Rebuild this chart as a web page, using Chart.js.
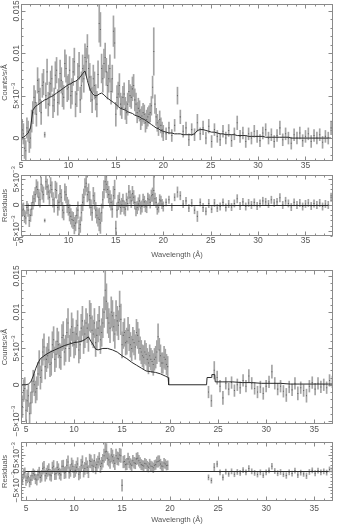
<!DOCTYPE html>
<html><head><meta charset="utf-8">
<script src="https://cdn.jsdelivr.net/npm/chart.js@4.4.1/dist/chart.umd.min.js"></script>
<style>
html,body{margin:0;padding:0;background:#fff;}
#wrap{position:relative;width:337px;height:526px;overflow:hidden;background:#fff;}
#wrap canvas{position:absolute;left:0;}
</style></head><body><div id="wrap">
<canvas id="p1"></canvas><canvas id="r1"></canvas><canvas id="p2"></canvas><canvas id="r2"></canvas>
</div>
<script>
// ---------- DATA (flux, errors, model, residuals in units of 1e-4 counts/s/Å) ----------
const wl1 = [5,5.25,5.5,5.75,6,6.25,6.5,6.75,7,7.25,7.5,7.75,8,8.25,8.5,8.75,9,9.25,9.5,9.75,10,10.25,10.5,10.75,11,11.25,11.5,11.75,12,12.25,12.5,12.75,13,13.25,13.5,13.75,14,14.25,14.5,14.75,15,15.25,15.5,15.75,16,16.25,16.5,16.75,17,17.25,17.5,17.75,18,18.25,18.5,18.75,19,19.25,19.5,19.75,20,
20.3,20.6,20.9,21.2,21.5,21.8,22.1,22.4,22.7,23.0,23.3,23.6,23.9,24.2,24.5,24.8,25.1,25.4,25.7,26.0,26.3,26.6,26.9,27.2,27.5,27.8,28.1,28.4,28.7,29.0,29.3,29.6,29.9,30.2,30.5,30.8,31.1,31.4,31.7,32.0,32.3,32.6,32.9,33.2,33.5,33.8,34.1,34.4,34.7,35.0,35.3,35.6,35.9,36.2,36.5,36.8,37.1,37.4,37.7];
const flux1 = [-8,5,-15,8,0,30,42,68,45,62, 4,78,52,70,45,80,55,68,48,82, 60,50,78,40,72,45,82,95,108,72, 45,62,40,135,82,88,78,70,55,126, 28,52,40,48,35,40,50,58,45,30, 32,26,28,22,28,38,102,25,12,15, 6,
5,12,3,15,50,25,8,12,-2,10, 4,18,5,12,0,14,-4,10,2,-2, 8,0,9,-3,5,18,2,6,-4,5, 0,8,2,-3,6,10,0,4,-4,3, 12,-2,5,0,-6,4,0,6,-3,2, 5,-4,3,0,4,-5,2,0,12];
const err1 = [12,12,12,12,12,13,14,15,14,14, 3,15,14,15,14,15,15,15,14,16, 15,15,16,15,16,15,16,16,14,16, 15,16,15,22,17,17,16,16,15,18, 14,14,13,13,13,13,13,14,13,12, 12,11,11,11,10,11,28,10,9,9, 9,
7,7,7,7,10,8,7,7,7,7, 7,10,7,8,7,8,7,7,7,7, 7,7,7,7,7,8,7,7,7,7, 7,7,7,7,7,7,7,7,7,7, 8,7,7,7,7,7,7,7,7,7, 7,7,7,7,7,7,7,7,8];
const model1 = [0,1,3,6,12,33,37,39,41,43, 45,46,48,49,51,53,55,57,59,61, 63,64,66,67,69,72,76,79,68,58, 53,50,50,52,53,51,48,46,44,42, 40,37,35,34,33,31,30,29,27,26, 25,23,22,20,18,16,14,12,11,9, 8,
7,6,6,5,5,5,4,4,4,4, 5,9,10,10,9,8,7,7,6,5, 5,4,4,4,4,3,3,3,3,2, 2,2,2,2,2,1,1,1,1,1, 1,1,1,1,0,0,0,0,0,0, 0,0,0,0,0,0,0,0,0];
const resid1 = [-15,-8,-25,-10,-20,5,20,30,10,25, -30,35,15,30,0,28,5,15,-15,20, -5,-22,-30,-35,-10,-38,5,35,20,10, -15,8,-20,-28,-15,30,40,20,5,18, -45,5,-5,8,-8,3,15,22,5,-5, 8,-3,6,-4,10,18,28,5,-5,8, -3,
5,10,-4,15,25,18,2,8,-6,4, -10,-22,5,-5,-12,3,-8,4,-6,-3, 5,-5,2,-4,3,12,-2,6,-3,4, 0,5,-2,3,8,6,2,10,4,6, 14,0,8,3,-4,5,0,4,-3,2, 4,-2,3,0,4,-3,2,0,15];
// interleaved bins of the dense 5–20 Å part
const wl1b = [5.125,5.375,5.625,5.875,6.125,6.375,6.625,6.875,7.125,7.375, 7.625,7.875,8.125,8.375,8.625,8.875,9.125,9.375,9.625,9.875, 10.125,10.375,10.625,10.875,11.125,11.375,11.625,11.875,12.125,12.375, 12.625,12.875,13.125,13.375,13.625,13.875,14.125,14.375,14.625,14.875, 15.125,15.375,15.625,15.875,16.125,16.375,16.625,16.875,17.125,17.375, 17.625,17.875,18.125,18.375,18.625,18.875,19.125,19.375,19.625,19.875];
const flux1b = [10,-12,12,-5,20,48,28,55,30,66, 50,40,64,38,74,42,76,52,88,58, 80,55,90,52,85,62,70,90,82,58, 70,48,75,128,70,95,62,82,70,112, 48,62,36,52,30,55,48,62,40,35, 22,30,18,25,30,60,40,18,22,10];
const err1b = [12,12,12,12,13,14,14,15,14,15, 15,14,15,14,16,15,16,15,16,15, 16,15,16,15,16,16,16,16,16,15, 16,15,16,20,16,17,16,16,16,18, 14,14,13,13,13,13,13,13,13,12, 12,11,11,11,11,13,11,10,10,9];
const resid1b = [-10,-22,-5,-30,-8,12,35,15,40,20, 45,25,38,10,30,-5,22,-10,25,0, -15,-28,-40,-20,-45,-15,15,42,25,-5, 18,-10,-25,-35,10,45,30,12,-8,30, -10,10,0,-5,10,25,8,15,-8,2, -6,10,-2,12,5,20,12,-8,10,2];

const wl2 = [4.5,4.75,5,5.25,5.5,5.75,6,6.25,6.5,6.75, 7,7.25,7.5,7.75,8,8.25,8.5,8.75,9,9.25, 9.5,9.75,10,10.25,10.5,10.75,11,11.25,11.5,11.75, 12,12.25,12.5,12.75,13,13.25,13.5,13.75,14,14.25, 14.5,14.75,15,15.25,15.5,15.75,16,16.25,16.5,16.75, 17,17.25,17.5,17.75,18,18.25,18.5,18.75,19,19.25, 19.5,19.75,
24.0,24.3,24.6,24.9,25.2,25.5,25.8,26.1,26.4,26.7, 27.0,27.3,27.6,27.9,28.2,28.5,28.8,29.1,29.4,29.7, 30.0,30.3,30.6,30.9,31.2,31.5,31.8,32.1,32.4,32.7, 33.0,33.3,33.6,33.9,34.2,34.5,34.8,35.1,35.4,35.7, 36.0,36.3,36.6,36.9];
const flux2 = [-20,-8,-35,-15,-25,5,-10,15,10,45, 25,40,28,55,35,60,40,65,45,72, 50,80,55,70,48,78,62,85,65,92, 70,58,78,62,85,130,92,78,95,70, 88,108,55,72,60,65,50,58,72,60, 45,38,42,30,35,28,38,66,40,30, 35,25,
-10,-22,20,10,-2,-18,2,-6,3,-8, 0,-4,6,-2,12,2,-5,-10,-3,-12, -2,4,18,2,-6,-2,-9,-14,-3,-7, 2,-12,-4,-8,-15,-2,3,-6,2,-3, 0,-4,6,4];
const err2 = [15,15,15,15,15,15,15,16,16,18, 17,17,17,18,17,18,17,18,18,19, 18,19,18,19,18,19,19,20,19,20, 19,19,19,19,20,27,21,20,21,20, 20,21,18,19,18,18,17,17,18,17, 16,16,15,15,15,15,15,18,15,14, 14,14,
8,8,12,9,8,9,8,8,8,8, 8,8,8,8,9,8,8,8,8,8, 8,8,9,8,8,8,8,9,8,8, 8,9,8,8,9,8,8,8,8,8, 8,8,8,8];
const resid2 = [-15,-10,-30,-18,-28,-8,-25,-12,-20,8, -15,0,-12,10,-10,12,-8,15,-6,18, -5,22,-3,12,-10,18,0,22,-2,30, 15,10,28,14,32,60,40,28,45,24, 40,50,-45,30,22,28,18,26,38,32, 20,16,22,12,16,10,20,30,22,15, 22,18,
-20,-30,12,22,-4,-20,-2,-9,-1,-10, -3,-6,3,-4,8,-1,-6,-11,-4,-13, -4,2,15,0,-7,-3,-10,-14,-4,-8, 1,-12,-5,-9,-15,-3,2,-7,1,-4, -1,-5,5,3];
const wl2b = [4.625,4.875,5.125,5.375,5.625,5.875,6.125,6.375,6.625,6.875, 7.125,7.375,7.625,7.875,8.125,8.375,8.625,8.875,9.125,9.375, 9.625,9.875,10.125,10.375,10.625,10.875,11.125,11.375,11.625,11.875, 12.125,12.375,12.625,12.875,13.125,13.375,13.625,13.875,14.125,14.375, 14.625,14.875,15.125,15.375,15.625,15.875,16.125,16.375,16.625,16.875, 17.125,17.375,17.625,17.875,18.125,18.375,18.625,18.875,19.125,19.375, 19.625];
const flux2b = [-30,-5,-22,-40,-10,0,-5,30,20,52, 35,48,30,62,42,55,38,68,50,85, 58,72,60,82,55,88,70,78,95,75, 85,68,88,72,100,115,85,100,80,95, 82,90,68,58,75,55,62,52,68,50, 40,45,35,40,32,35,45,48,30,38, 28];
const err2b = [15,15,15,15,15,15,16,17,17,18, 17,18,17,18,18,18,17,19,18,20, 19,19,19,20,19,20,19,20,21,20, 20,19,20,19,21,24,20,21,20,21, 20,21,18,17,18,17,17,17,18,16, 15,16,15,15,15,15,16,16,14,15, 14];
const resid2b = [-28,-5,-22,-35,-15,-12,-28,-5,-15,12, -8,5,-15,15,-8,5,-12,15,-4,28, 2,15,2,22,-4,28,8,12,32,18, 32,20,38,24,48,62,35,50,32,48, 38,48,28,20,38,22,32,24,40,26, 18,24,16,22,14,18,28,32,16,25, 17];
const modelWl2 = [4.5,5,5.25,5.5,5.75,6,6.25,6.5,7,7.5,8,8.5,9,9.5,10,10.5,11,11.5,11.75,12,12.25,12.5,13,13.5,14,14.5,15,15.5,16,16.5,17,17.5,18,18.5,19,19.5,19.8,19.85,23.8,23.85,24.3,24.35,24.65,24.7,25.5,26.5,27.5,28.5,29.5,30.5,31.5,32.5,33.5,34.5,35.5,36.5,37];
const model2 = [0,0,1,4,12,22,30,36,41,45,48,51,54,56,58,59,61,66,60,55,49,48,50,50,48,45,40,36,31,27,23,19,18,17,15,12,10,0,0,10,10,14,14,4,4,4,3,3,2,2,2,1,1,1,1,1,1];

// axis tick labels
const xTickStep = 5;
const yTickVals1 = [0, 0.005, 0.01, 0.015];
const yTickLabels1 = ['0', '5×10^−3', '0.01', '0.015'];
const yTickValsR = [-0.005, 0, 0.005];
const yTickLabelsR = ['−5×10^−3', '0', '5×10^−3'];
const yTickVals2 = [-0.005, 0, 0.005, 0.01, 0.015];
const yTickLabels2 = ['−5×10^−3', '0', '5×10^−3', '0.01', '0.015'];

// ---------- STYLE ----------
const UNIT = 1e-4;
const FONT = "'Liberation Sans','DejaVu Sans',sans-serif";
const TXT = '#555', FRAME = '#8a8a8a', BAR = '#a4a4a4', DOT = '#666', LINE = '#2a2a2a';

function drawRot(ctx, text, bx, cy) {
  const parts = text.split('^');
  ctx.save();
  ctx.translate(bx, cy);
  ctx.rotate(-Math.PI / 2);
  ctx.textBaseline = 'alphabetic'; ctx.textAlign = 'left';
  ctx.font = '8.5px ' + FONT;
  const wb = ctx.measureText(parts[0]).width;
  let ws = 0;
  if (parts[1]) { ctx.font = '6px ' + FONT; ws = ctx.measureText(parts[1]).width; }
  const s = -(wb + ws) / 2;
  ctx.font = '8.5px ' + FONT; ctx.fillText(parts[0], s, 0);
  if (parts[1]) { ctx.font = '6px ' + FONT; ctx.fillText(parts[1], s + wb, -4); }
  ctx.restore();
}

function framePlugin(cfg) {
  return {
    id: 'pgFrame',
    afterDatasetsDraw(chart) {
      const ctx = chart.ctx, a = chart.chartArea, xs = chart.scales.x, ys = chart.scales.y;
      const L = Math.round(a.left) + 0.5, R = Math.round(a.right) - 0.5, T = Math.round(a.top) + 0.5, B = Math.round(a.bottom) - 0.5;
      ctx.save();
      if (cfg.zero) {
        const py = Math.round(ys.getPixelForValue(0)) + 0.5;
        ctx.strokeStyle = LINE; ctx.lineWidth = 1;
        ctx.beginPath(); ctx.moveTo(L, py); ctx.lineTo(R, py); ctx.stroke();
      }
      ctx.strokeStyle = FRAME; ctx.lineWidth = 1;
      ctx.strokeRect(L, T, R - L, B - T);
      ctx.beginPath();
      for (let k = Math.ceil(xs.min); k <= Math.floor(xs.max); k++) {
        const px = Math.round(xs.getPixelForValue(k)) + 0.5;
        const len = k % 5 === 0 ? 4 : 2;
        ctx.moveTo(px, B); ctx.lineTo(px, B - len);
        ctx.moveTo(px, T); ctx.lineTo(px, T + len);
      }
      const st = cfg.minor, per = Math.round(0.005 / st);
      for (let k = Math.ceil(ys.min / st - 1e-9); k <= Math.floor(ys.max / st + 1e-9); k++) {
        const py = Math.round(ys.getPixelForValue(k * st)) + 0.5;
        const len = (k % per === 0) ? 4 : 2;
        ctx.moveTo(L, py); ctx.lineTo(L + len, py);
        ctx.moveTo(R, py); ctx.lineTo(R - len, py);
      }
      ctx.stroke();
      ctx.fillStyle = TXT;
      cfg.yVals.forEach((v, i) => drawRot(ctx, cfg.yLabels[i], 18.5, ys.getPixelForValue(v)));
      ctx.restore();
    }
  };
}

const eb = (wl, v, e) => wl.map((w, i) => ({x: w, y: [(v[i] - e[i]) * UNIT, (v[i] + e[i]) * UNIT]}));
const pt = (wl, v) => wl.map((w, i) => ({x: w, y: v[i] * UNIT}));
function sets(wl, v, e, mwl, m) {
  const s = [
    {type: 'bar', data: eb(wl, v, e), backgroundColor: BAR, borderWidth: 0, barThickness: 1, grouped: false, clip: 0, order: 3},
    {type: 'scatter', data: pt(wl, v), pointStyle: 'rect', pointRadius: 0.75, backgroundColor: DOT, borderWidth: 0, clip: 0, order: 2}
  ];
  if (mwl) s.push({type: 'line', data: pt(mwl, m), borderColor: LINE, borderWidth: 1, pointRadius: 0, tension: 0, fill: false, clip: 0, order: 1});
  return s;
}

function makeChart(id, cfg, datasets) {
  const cv = document.getElementById(id);
  cv.width = 337; cv.height = cfg.h;
  cv.style.top = cfg.top + 'px'; cv.style.width = '337px'; cv.style.height = cfg.h + 'px';
  return new Chart(cv.getContext('2d'), {
    type: 'scatter',
    data: {datasets},
    options: {
      responsive: false, maintainAspectRatio: false, animation: false, devicePixelRatio: 1, events: [],
      layout: {padding: {left: 0, right: 1, top: cfg.plotTop - cfg.top, bottom: 0}},
      plugins: {legend: {display: false}, tooltip: {enabled: false}},
      scales: {
        x: {type: 'linear', min: cfg.xmin, max: cfg.xmax, offset: false,
            grid: {display: false, drawTicks: false, offset: false}, border: {display: false},
            ticks: {stepSize: xTickStep, includeBounds: false, autoSkip: false, maxRotation: 0, padding: cfg.xpad, color: TXT, font: {family: FONT, size: 8.5}},
            title: {display: cfg.xtitle, text: 'Wavelength (Å)', color: TXT, font: {family: FONT, size: 7.5}, padding: {top: 0, bottom: cfg.tpad || 0}},
            afterFit(s) { s.height = cfg.top + cfg.h - cfg.plotBottom; }},
        y: {type: 'linear', min: cfg.ymin, max: cfg.ymax, beginAtZero: false,
            grid: {display: false, drawTicks: false}, border: {display: false},
            ticks: {display: false, stepSize: 0.005},
            title: {display: true, text: cfg.ytitle, color: TXT, font: {family: FONT, size: 7.5}, padding: {top: 0.5, bottom: 0}},
            afterFit(s) { s.width = 21; }}
      }
    },
    plugins: [framePlugin(cfg)]
  });
}

const W1 = wl1.concat(wl1b), F1 = flux1.concat(flux1b), E1 = err1.concat(err1b), R1 = resid1.concat(resid1b);
const W2 = wl2.concat(wl2b), F2 = flux2.concat(flux2b), E2 = err2.concat(err2b), R2 = resid2.concat(resid2b);

makeChart('p1', {top: 0, h: 180, plotTop: 2, plotBottom: 161, xmin: 5, xmax: 37.9, ymin: -0.0027, ymax: 0.0158,
  minor: 0.001, yVals: yTickVals1, yLabels: yTickLabels1, ytitle: 'Counts/s/Å', xtitle: false, xpad: 0},
  sets(W1, F1, E1, wl1, model1));
makeChart('r1', {top: 156, h: 106, plotTop: 175, plotBottom: 236, xmin: 5, xmax: 37.9, ymin: -0.006, ymax: 0.0058,
  minor: 0.001, yVals: yTickValsR, yLabels: yTickLabelsR, ytitle: 'Residuals', xtitle: true, xpad: 0, tpad: 2.5, zero: true},
  sets(W1, R1, E1));
makeChart('p2', {top: 258, h: 182, plotTop: 270, plotBottom: 424, xmin: 4.48, xmax: 36.96, ymin: -0.0054, ymax: 0.0158,
  minor: 0.001, yVals: yTickVals2, yLabels: yTickLabels2, ytitle: 'Counts/s/Å', xtitle: false, xpad: 1},
  sets(W2, F2, E2, modelWl2, model2));
makeChart('r2', {top: 430, h: 96, plotTop: 442, plotBottom: 501, xmin: 4.48, xmax: 36.96, ymin: -0.0094, ymax: 0.0091,
  minor: 0.001, yVals: yTickValsR, yLabels: yTickLabelsR, ytitle: 'Residuals', xtitle: true, xpad: 3, tpad: 1.5, zero: true},
  sets(W2, R2, E2));
</script>
</body></html>
